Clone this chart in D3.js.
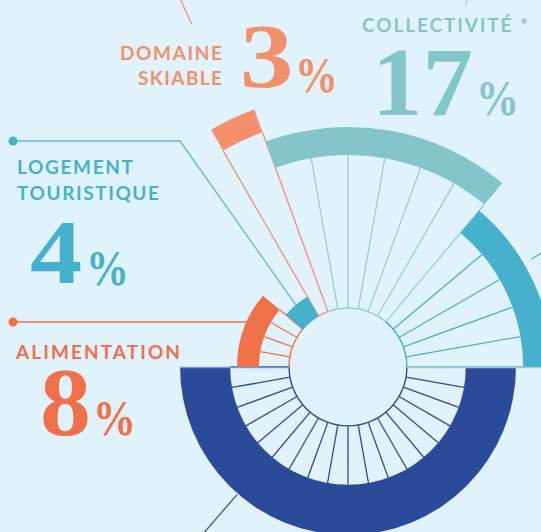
<!DOCTYPE html>
<html>
<head>
<meta charset="utf-8">
<script src="https://cdn.jsdelivr.net/npm/d3@7"></script>
<style>
    body { margin: 0; background: #e0f2fc; }
    svg { display: block; }
</style>
</head>
<body>
<div id="chart"></div>
<script>
"use strict";

// Sectors listed clockwise from 3 o'clock; one sector = one spoke step (10°).
const categories = ["hors-champ A", "Alimentation", "Logement touristique", "Domaine skiable", "Collectivité", "hors-champ B"];
const sectors = [18, 4, 2, 1, 6, 5];
const percents = [null, 8, 4, 3, 17, null];
// radial extent of each ring, on a 0-100 scale
const ringInner = [43, 32.5, 21.5, 91.2, 77.4, 63.9];
const ringOuter = [61.3, 40.5, 29.6, 100, 87.6, 74.5];
const hubLevel = 21.5;

const fills = ["#2b4a99", "#ef7049", "#46b1cd", "#f3906b", "#84c5ca", "#46b1cd"];
const spokeColors = ["#2b4a99", "#ef7049", "#46b1cd", "#f3906b", "#95cfd3", "#46b1cd"];

const width = 541, height = 532;
const cx = 348, cy = 367;

const svg = d3.select("#chart").append("svg")
    .attr("width", width)
    .attr("height", height);
svg.append("rect").attr("width", width).attr("height", height).attr("fill", "#e0f2fc");

const total = d3.sum(sectors);
const rScale = d3.scaleLinear().domain([0, 100]).range([0, 274]);
const aScale = d3.scaleLinear().domain([0, total]).range([Math.PI / 2, Math.PI / 2 + 2 * Math.PI]);
const cum = Array.from(d3.cumsum([0, ...sectors]));

const pie = d3.pie().sort(null).value(d => d)
    .startAngle(Math.PI / 2).endAngle(Math.PI / 2 + 2 * Math.PI);
const arcs = pie(sectors);

const g = svg.append("g").attr("transform", `translate(${cx},${cy})`);

// point at d3 angle a (clockwise from 12 o'clock) and radius r, relative to centre
function polar(a, r) {
    return [r * Math.sin(a), -r * Math.cos(a)];
}

// Spokes: each goes from the hub to the ring of the sector it belongs to;
// on a boundary it takes the ring that starts further out.
const spokes = [];
for (let k = 0; k < total; ++k) {
    let best = -1;
    sectors.forEach((s, i) => {
        const inside = (k >= cum[i] && k <= cum[i + 1]) || (k === 0 && cum[i + 1] === total);
        if (inside && (best < 0 || ringInner[i] > ringInner[best])) best = i;
    });
    spokes.push({k: k, seg: best});
}
g.append("g").selectAll("line")
    .data(spokes)
    .join("line")
    .attr("x1", d => polar(aScale(d.k), rScale(hubLevel))[0])
    .attr("y1", d => polar(aScale(d.k), rScale(hubLevel))[1])
    .attr("x2", d => polar(aScale(d.k), rScale(ringInner[d.seg]))[0])
    .attr("y2", d => polar(aScale(d.k), rScale(ringInner[d.seg]))[1])
    .attr("stroke", d => spokeColors[d.seg])
    .attr("stroke-width", 1.3);

// Rings
g.append("g").selectAll("path")
    .data(arcs)
    .join("path")
    .attr("d", (d, i) => d3.arc()
        .innerRadius(rScale(ringInner[i]))
        .outerRadius(rScale(ringOuter[i]))(d))
    .attr("fill", (d, i) => fills[i]);

// Hub outline, coloured per sector
g.append("g").selectAll("path")
    .data(arcs)
    .join("path")
    .attr("d", d => d3.arc()
        .innerRadius(rScale(hubLevel) - 0.7)
        .outerRadius(rScale(hubLevel) + 0.7)(d))
    .attr("fill", (d, i) => spokeColors[i]);

// Horizontal diameter
g.append("line")
    .attr("x1", rScale(hubLevel)).attr("y1", 0.5)
    .attr("x2", rScale(ringOuter[5])).attr("y2", 0.5)
    .attr("stroke", "#93cfe0").attr("stroke-width", 1.3);
g.append("line")
    .attr("x1", -rScale(hubLevel)).attr("y1", 0.5)
    .attr("x2", -rScale(ringOuter[0])).attr("y2", 0.5)
    .attr("stroke", "#7d94c8").attr("stroke-width", 1.3);

// Leader lines running off the picture (labels outside the frame)
const offLeaders = [
    {deg: -24.5, r0: 377, r1: 440, color: spokeColors[3]},
    {deg: 18, r0: 380, r1: 440, color: spokeColors[4]},
    {deg: 59.5, r0: 213, r1: 280, color: spokeColors[5]},
    {deg: 221, r0: 169, r1: 260, color: spokeColors[0]}
];
g.append("g").selectAll("line")
    .data(offLeaders)
    .join("line")
    .attr("x1", d => polar(d.deg * Math.PI / 180, d.r0)[0])
    .attr("y1", d => polar(d.deg * Math.PI / 180, d.r0)[1])
    .attr("x2", d => polar(d.deg * Math.PI / 180, d.r1)[0])
    .attr("y2", d => polar(d.deg * Math.PI / 180, d.r1)[1])
    .attr("stroke", d => d.color)
    .attr("stroke-width", 1.2);

// Leaders with dots (logement, alimentation)
const logIdx = 2, aliIdx = 1;
const logMid = (arcs[logIdx].startAngle + arcs[logIdx].endAngle) / 2;
const logEnd = polar(logMid, rScale(ringOuter[logIdx]));
const line = d3.line();
svg.append("path")
    .attr("d", line([[13, 141], [180, 141], [cx + logEnd[0], cy + logEnd[1]]]))
    .attr("fill", "none").attr("stroke", "#5bbad6").attr("stroke-width", 1.3);
svg.append("circle").attr("cx", 13).attr("cy", 141).attr("r", 4.5).attr("fill", "#46b1cd");

const aliY = 322;
const aliR = rScale(ringOuter[aliIdx]);
const aliX = cx - Math.sqrt(aliR * aliR - (cy - aliY) * (cy - aliY));
svg.append("line")
    .attr("x1", 13).attr("y1", aliY).attr("x2", aliX + 1).attr("y2", aliY)
    .attr("stroke", "#ef7049").attr("stroke-width", 1.3);
svg.append("circle").attr("cx", 13).attr("cy", aliY).attr("r", 4.5).attr("fill", "#ef7049");

// Labels
const caps = [
    {text: "DOMAINE", x: 222, y: 60, anchor: "end", len: 102, color: "#f3906b"},
    {text: "SKIABLE", x: 222, y: 85, anchor: "end", len: 84, color: "#f3906b"},
    {text: "COLLECTIVITÉ *", x: 362, y: 32, anchor: "start", len: 166, color: "#84c5ca"},
    {text: "LOGEMENT", x: 17, y: 174, anchor: "start", len: 116, color: "#46b1cd"},
    {text: "TOURISTIQUE", x: 17, y: 200, anchor: "start", len: 142, color: "#46b1cd"},
    {text: "ALIMENTATION", x: 16, y: 359, anchor: "start", len: 164, color: "#ef7049"}
];
svg.append("g").selectAll("text")
    .data(caps)
    .join("text")
    .attr("x", d => d.anchor === "end" ? d.x - d.len : d.x)
    .attr("y", d => d.y)
    .attr("textLength", d => d.len)
    .attr("lengthAdjust", "spacing")
    .attr("font-family", "Lato, 'Open Sans', sans-serif")
    .attr("font-weight", 700)
    .attr("font-size", 19)
    .attr("fill", d => d.color)
    .text(d => d.text);

// Big figures: digits slightly widened, narrower per-cent sign tucked in
const numbers = [
    {seg: 3, x: 240, y: 87, size: 92, sx: 1.16, px: 295, py: 92},
    {seg: 4, x: 372, y: 115, size: 98, sx: 1.03, px: 476, py: 115},
    {seg: 2, x: 30, y: 283, size: 90, sx: 1.16, px: 86, py: 285},
    {seg: 1, x: 40, y: 435, size: 98, sx: 1.04, px: 93, py: 435}
];
const serif = "'Liberation Serif', 'Times New Roman', serif";
const nums = svg.append("g").selectAll("g")
    .data(numbers)
    .join("g");
nums.append("text")
    .attr("transform", d => `translate(${d.x},${d.y}) scale(${d.sx},1)`)
    .attr("font-family", serif).attr("font-weight", 700)
    .attr("font-size", d => d.size)
    .attr("fill", d => fills[d.seg])
    .text(d => percents[d.seg]);
nums.append("text")
    .attr("transform", d => `translate(${d.px},${d.py}) scale(0.86,1)`)
    .attr("font-family", serif).attr("font-weight", 700)
    .attr("font-size", 50)
    .attr("fill", d => fills[d.seg])
    .text("%");
</script>
</body>
</html>
